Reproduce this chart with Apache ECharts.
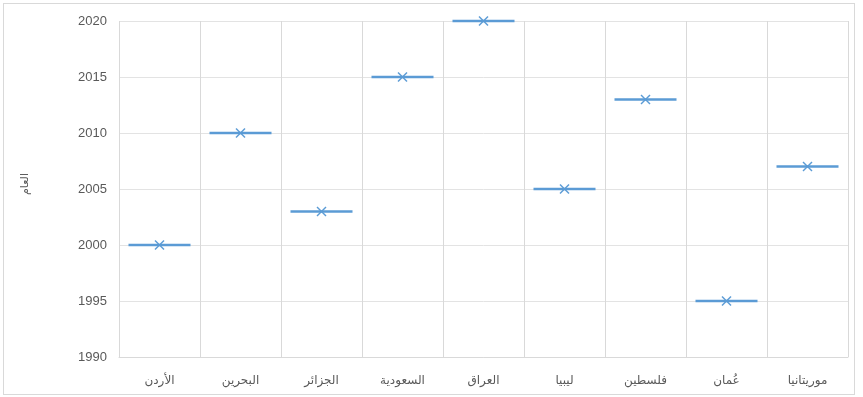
<!DOCTYPE html>
<html>
<head>
<meta charset="utf-8">
<script src="https://cdn.jsdelivr.net/npm/echarts@6/dist/echarts.min.js"></script>
<style>
  html, body { margin: 0; padding: 0; background: #fff; }
  #frame { position: absolute; left: 3px; top: 3px; width: 852px; height: 392px; border: 1px solid #d9d9d9; box-sizing: border-box; }
  #chart { position: absolute; left: 0; top: 0; width: 863px; height: 397px; }
</style>
</head>
<body>
<div id="frame"></div>
<div id="chart"></div>
<script>
// Countries along the category axis and the year recorded for each
const countries = ['الأردن', 'البحرين', 'الجزائر', 'السعودية', 'العراق', 'ليبيا', 'فلسطين', 'عُمان', 'موريتانيا'];
const years = [2000, 2010, 2003, 2015, 2020, 2005, 2013, 1995, 2007];
const yearTicks = [1990, 1995, 2000, 2005, 2010, 2015, 2020];
const axisName = 'العام';

const blue = '#5b9bd5';
// X-shaped marker drawn as a filled outline
const crossPath = 'path://M0,1L1,0L5,4L9,0L10,1L6,5L10,9L9,10L5,6L1,10L0,9L4,5Z';

const chart = echarts.init(document.getElementById('chart'));
chart.setOption({
  animation: false,
  grid: { left: 119, right: 15, top: 21, bottom: 40 },
  xAxis: {
    type: 'category',
    data: countries,
    axisTick: { show: false },
    axisLine: { show: true, lineStyle: { color: '#d9d9d9', width: 1 } },
    axisLabel: { color: '#595959', fontSize: 12, fontFamily: 'DejaVu Sans', margin: 18 },
    splitLine: { show: true, lineStyle: { color: '#d9d9d9', width: 1 } }
  },
  yAxis: {
    type: 'value',
    min: yearTicks[0],
    max: yearTicks[yearTicks.length - 1],
    interval: 5,
    name: axisName,
    nameLocation: 'middle',
    nameRotate: 90,
    nameGap: 88,
    nameTextStyle: { color: '#595959', fontSize: 11, fontFamily: 'DejaVu Sans', padding: [0, 0, 0, 10] },
    axisLine: { show: false },
    axisTick: { show: false },
    axisLabel: { color: '#595959', fontSize: 13, fontFamily: 'Liberation Sans', margin: 12,
      formatter: v => yearTicks.includes(v) ? String(v) : '' },
    splitLine: { show: true, lineStyle: { color: '#e3e3e3', width: 1 } }
  },
  series: [
    {
      type: 'scatter',
      data: years,
      symbol: 'rect',
      symbolSize: [62, 2.5],
      itemStyle: { color: blue, opacity: 1 },
      z: 3
    },
    {
      type: 'scatter',
      data: years,
      symbol: crossPath,
      symbolSize: 10,
      itemStyle: { color: blue, opacity: 1 },
      z: 4
    }
  ]
});
</script>
</body>
</html>
